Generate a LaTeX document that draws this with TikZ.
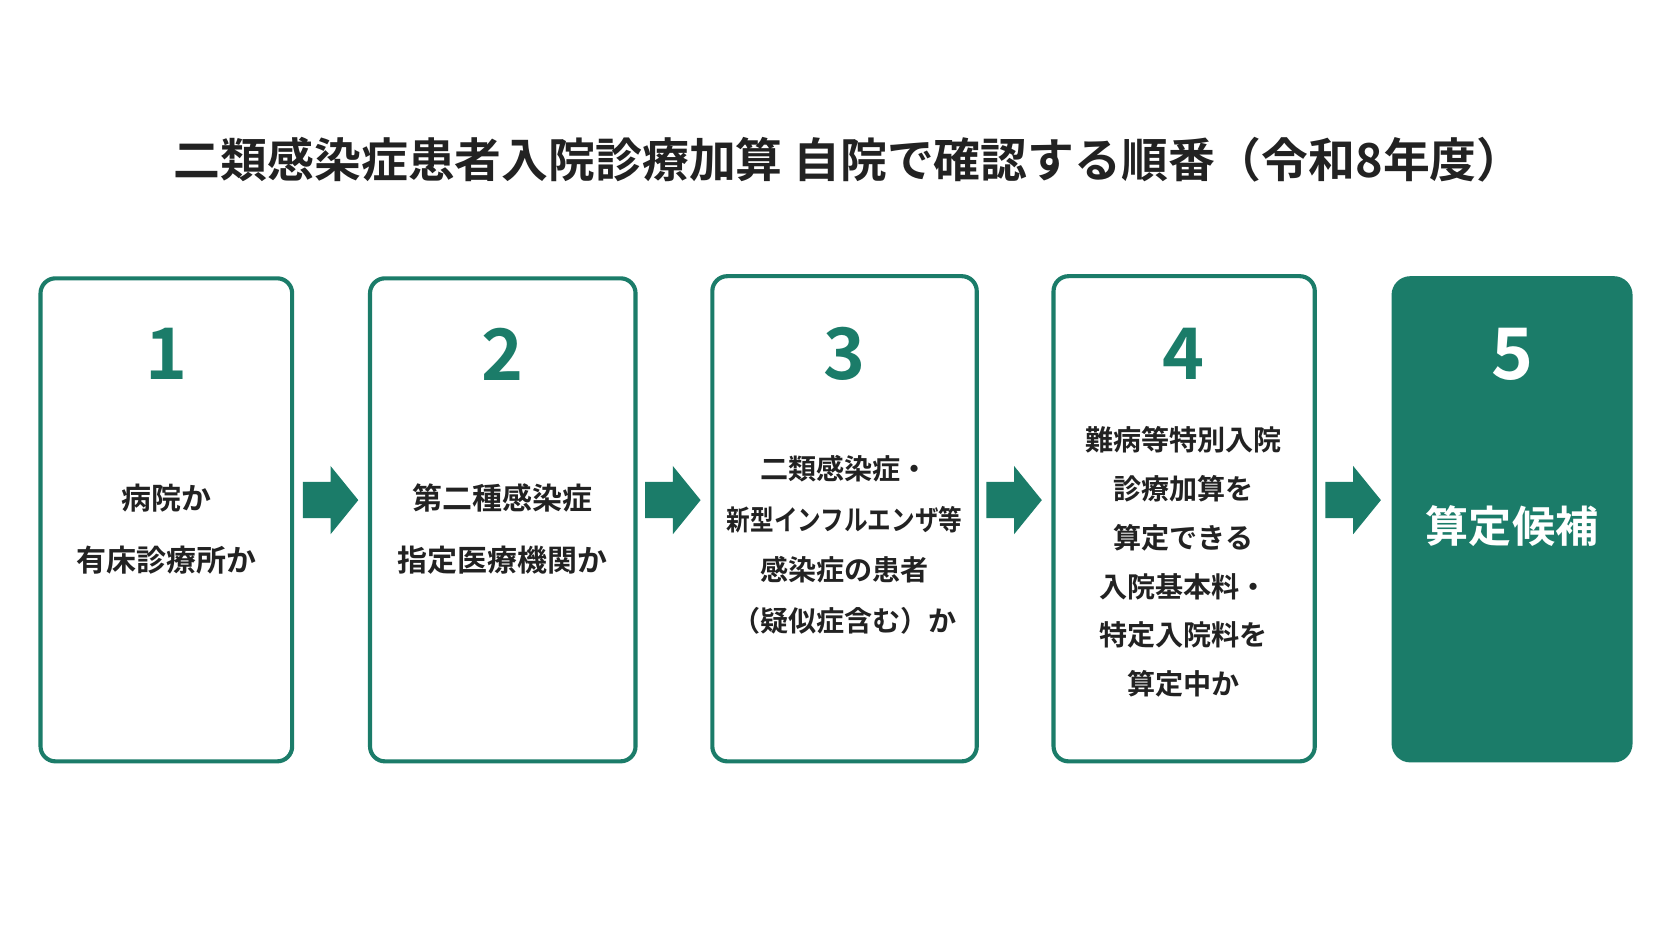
\documentclass[tikz,border=0pt]{standalone}
\usepackage{fontspec}
\usepackage{graphicx}
\setmainfont{Noto Sans CJK JP}[BoldFont={* Bold}]
\definecolor{teal1}{HTML}{1B7C69}
\definecolor{txt}{HTML}{222222}
\begin{document}
\begin{tikzpicture}[x=0.02cm,y=-0.02cm,
 box/.style={draw=teal1,line width=2.2pt,rounded corners=8pt},
 num/.style={text=teal1,font=\fontsize{38}{40}\selectfont\bfseries},
 body/.style={text=txt,font=\fontsize{16}{33}\selectfont\bfseries,align=center},
 arr/.style={fill=teal1}]
\useasboundingbox[fill=white] (0,0) rectangle (1568,882);
\node[text=txt,font=\fontsize{25}{28}\selectfont\bfseries] (title) at (796,150) {二類感染症患者入院診療加算 自院で確認する順番（令和8年度）};
\draw[box] (38,261) rectangle (274,714);
\draw[box] (347,261) rectangle (596,714);
\draw[box] (668,259) rectangle (916,714);
\draw[box] (988,259) rectangle (1233,714);
\fill[teal1,rounded corners=10pt] (1305,259) rectangle (1531,715);
\node[num] (n1) at (156,332) {1};
\node[num] (n2) at (471,332) {2};
\node[num] (n3) at (792,332) {3};
\node[num] (n4) at (1110,332) {4};
\node[num,text=white] (n5) at (1418,332) {5};
\node[body] (t1) at (156,496) {病院か\\有床診療所か};
\node[body] (t2) at (471,496) {第二種感染症\\指定医療機関か};
\node[body,font=\fontsize{15}{27}\selectfont\bfseries] (t3) at (792,511) {二類感染症・\\\scalebox{0.84}[1]{新型インフルエンザ等}\\感染症の患者\\（疑似症含む）か};
\node[body,font=\fontsize{15}{26}\selectfont\bfseries] (t4) at (1110,527) {難病等特別入院\\診療加算を\\算定できる\\入院基本料・\\特定入院料を\\算定中か};
\node[text=white,font=\fontsize{23}{26}\selectfont\bfseries] (t5) at (1418,493) {算定候補};
\foreach \x in {284,605,925,1243}{
 \fill[teal1] (\x,452) -- (\x+26,452) -- (\x+26,437) -- (\x+52,469) -- (\x+26,501) -- (\x+26,486) -- (\x,486) -- cycle;
}
\end{tikzpicture}
\end{document}
